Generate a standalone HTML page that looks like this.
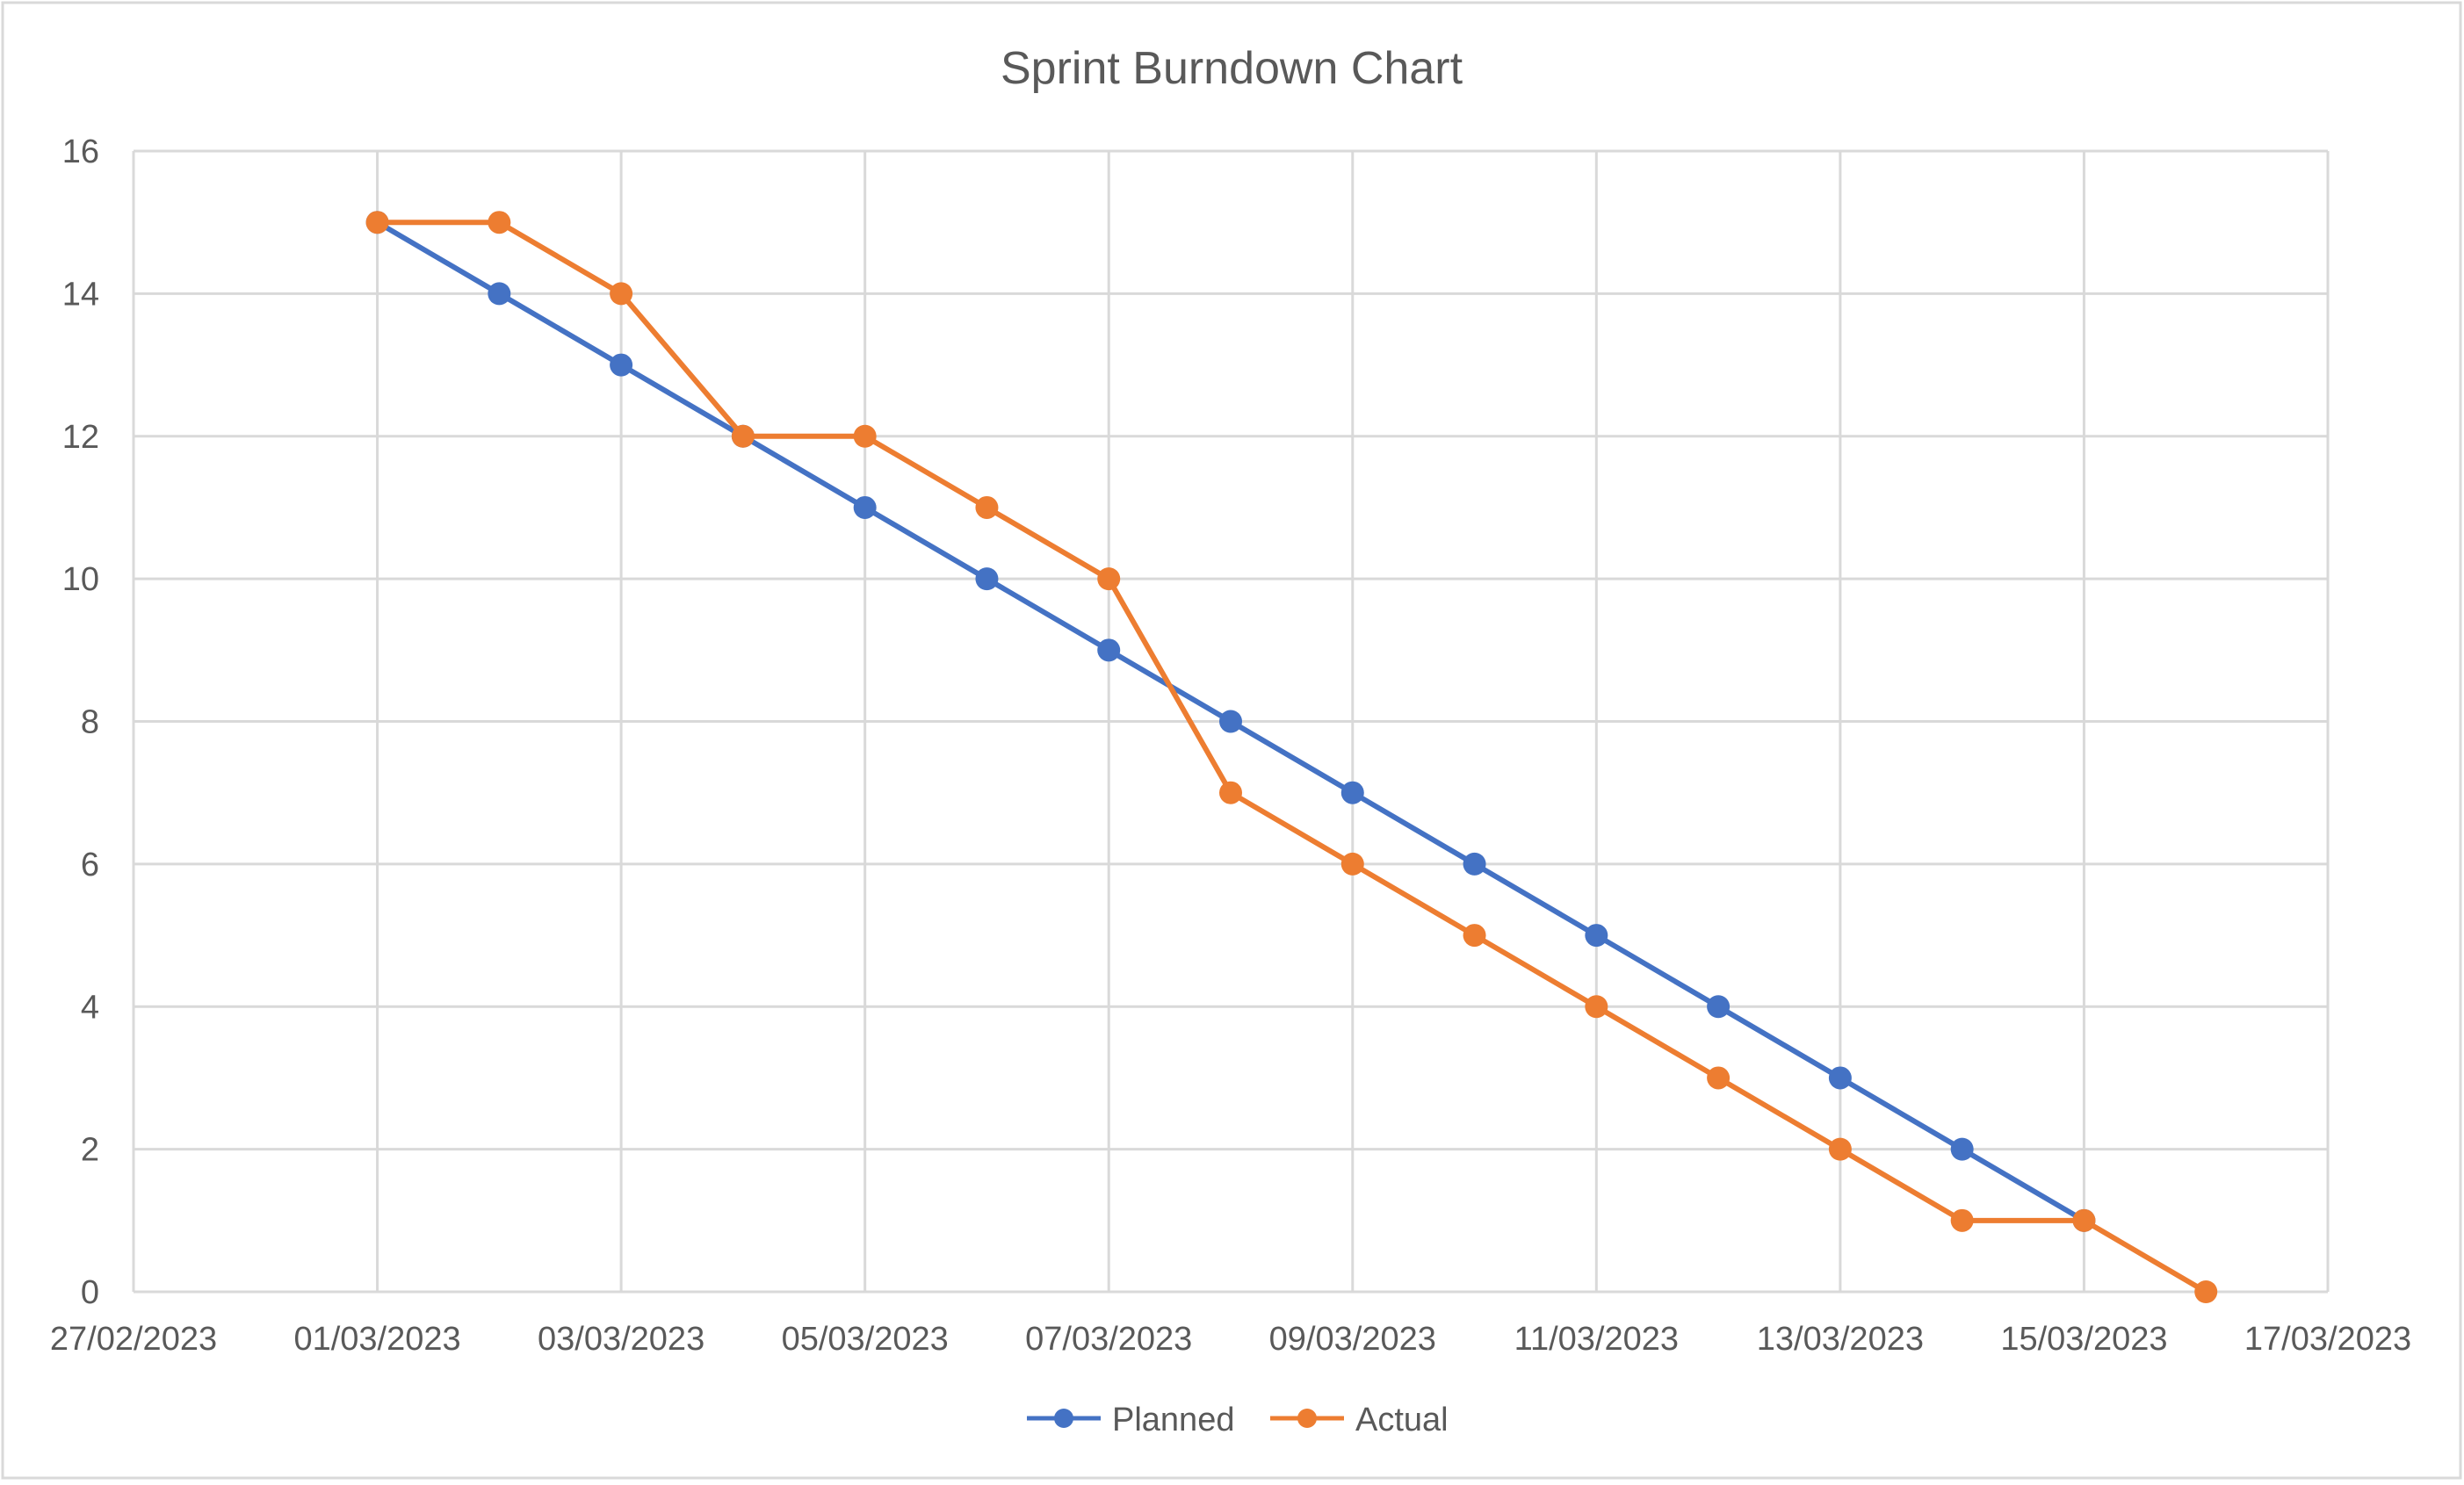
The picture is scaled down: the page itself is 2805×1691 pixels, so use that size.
<!DOCTYPE html>
<html><head><meta charset="utf-8"><style>
html,body{margin:0;padding:0;background:#fff;}
svg{display:block;font-family:"Liberation Sans",sans-serif;}
</style></head><body>
<svg id="chart" width="2805" height="1691" viewBox="0 0 2805 1691">
<rect x="3" y="3" width="2798" height="1680" fill="#fff" stroke="#d9d9d9" stroke-width="3"/>
<text x="1402" y="95" text-anchor="middle" font-size="52" fill="#595959">Sprint Burndown Chart</text>
<g id="grid"></g><g id="series"></g><g id="axes"></g>
<g>
<g>
<line x1="1169" y1="1615" x2="1253" y2="1615" stroke="#4472C4" stroke-width="5"/>
<circle cx="1211" cy="1615" r="11" fill="#4472C4"/>
<text x="1266" y="1629" font-size="38" fill="#595959">Planned</text></g>
<g>
<line x1="1446" y1="1615" x2="1530" y2="1615" stroke="#ED7D31" stroke-width="5"/>
<circle cx="1488" cy="1615" r="11" fill="#ED7D31"/>
<text x="1543" y="1629" font-size="38" fill="#595959">Actual</text></g>
</g>
</svg>
<script>
const days = [2,3,4,5,6,7,8,9,10,11,12,13,14,15,16,17];
const planned = [15,14,13,12,11,10,9,8,7,6,5,4,3,2,1,null];
const actual = [15,15,14,12,12,11,10,7,6,5,4,3,2,1,1,0];
const xTickLabels = ["27/02/2023","01/03/2023","03/03/2023","05/03/2023","07/03/2023","09/03/2023","11/03/2023","13/03/2023","15/03/2023","17/03/2023"];
const yTicks = [0,2,4,6,8,10,12,14,16];

const L=152,R=2650,T=172,B=1471,xMin=0,xMax=18,yMax=16;
const ns="http://www.w3.org/2000/svg";
const X=d=>L+(d-xMin)/(xMax-xMin)*(R-L);
const Y=v=>B-v/yMax*(B-T);
function mk(tag,attrs,parent){const e=document.createElementNS(ns,tag);for(const k in attrs)e.setAttribute(k,attrs[k]);parent.appendChild(e);return e;}
const grid=document.getElementById('grid'),axes=document.getElementById('axes'),ser=document.getElementById('series');
yTicks.forEach(v=>{
 const l=mk('line',{x1:L,x2:R,y1:Y(v),y2:Y(v),stroke:'#d9d9d9','stroke-width':3},grid);
 
 
 const t=mk('text',{x:113,y:Y(v)+13,'text-anchor':'end','font-size':38,fill:'#595959'},axes);
 t.textContent=v;
 
 
});
xTickLabels.forEach((s,i)=>{
 const d=i*2;
 const l=mk('line',{x1:X(d),x2:X(d),y1:T,y2:B,stroke:'#d9d9d9','stroke-width':3},grid);
 
 
 const t=mk('text',{x:X(d),y:1537,'text-anchor':'middle','font-size':38,fill:'#595959'},axes);
 t.textContent=s;
 
 
});
function draw(vals,color,name){
 const pts=[];vals.forEach((v,i)=>{if(v!==null)pts.push([X(days[i]),Y(v)]);});
 const p=mk('polyline',{points:pts.map(p=>p.join(',')).join(' '),fill:'none',stroke:color,'stroke-width':6,'stroke-linejoin':'round'},ser);
 
 
 pts.forEach(q=>{
  const c=mk('circle',{cx:q[0],cy:q[1],r:13,fill:color},ser);
  
  
 });
}
draw(planned,'#4472C4','planned');
draw(actual,'#ED7D31','actual');
</script>
</body></html>
